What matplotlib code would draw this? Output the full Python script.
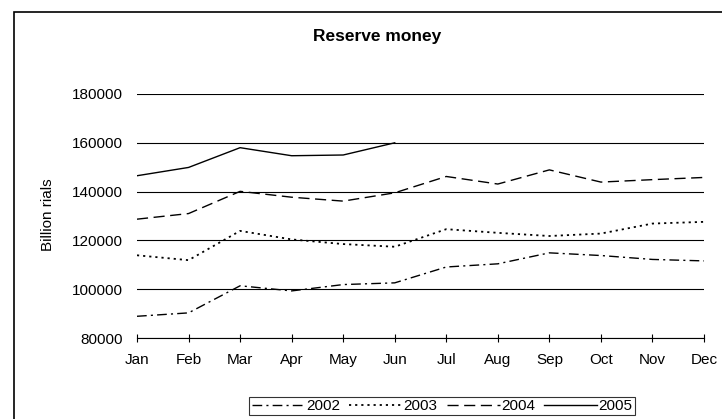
import matplotlib
matplotlib.use("Agg")
import matplotlib.pyplot as plt
from matplotlib.patches import Rectangle

plt.rcParams['font.family'] = ['Liberation Sans', 'DejaVu Sans']

MONTHS = ["Jan", "Feb", "Mar", "Apr", "May", "Jun", "Jul", "Aug", "Sep", "Oct", "Nov", "Dec"]
Y2002 = [88900, 90300, 101400, 99300, 101900, 102600, 109100, 110400, 114900, 113800, 112200, 111600]
Y2003 = [113900, 111900, 123900, 120400, 118500, 117400, 124600, 123100, 121800, 122800, 126900, 127600]
Y2004 = [128700, 131000, 140100, 137700, 136100, 139500, 146200, 143100, 148900, 143900, 144900, 145800]
Y2005 = [146500, 149900, 158000, 154700, 155000, 160000]
YTICKS = [80000, 100000, 120000, 140000, 160000, 180000]

fig = plt.figure(figsize=(7.22, 4.19), dpi=100)
ax = fig.add_axes([137 / 722, 1 - 338 / 419, (704 - 137) / 722, (338 - 94) / 419])

# outer chart border (cut off on the right and bottom like the source)
fig.patches.append(Rectangle((14 / 722, -0.1), 1.2, 1.1 - 12 / 419, transform=fig.transFigure,
                             fill=False, edgecolor="black", linewidth=1.2))

xs = list(range(len(MONTHS)))
ax.plot(xs, Y2002, color="black", linewidth=1.0, linestyle=(0, (7, 3, 1.5, 3)), label="2002")
ax.plot(xs, Y2003, color="black", linewidth=1.3, linestyle=(0, (1.2, 2.2)), label="2003")
ax.plot(xs, Y2004, color="black", linewidth=1.0, linestyle=(0, (8, 4)), label="2004")
ax.plot(xs[:len(Y2005)], Y2005, color="black", linewidth=1.0, label="2005")

ax.set_xlim(0, 11)
ax.set_ylim(80000, 180000)
ax.set_yticks(YTICKS)
ax.set_yticklabels([str(v) for v in YTICKS])
ax.set_xticks(xs)
ax.set_xticklabels(MONTHS)
ax.grid(axis="y", color="black", linewidth=0.8)
ax.set_axisbelow(True)

for side in ["left", "top", "right"]:
    ax.spines[side].set_visible(False)
ax.spines["bottom"].set_linewidth(0.8)
ax.tick_params(axis="y", length=0, pad=10, labelsize=11)
ax.tick_params(axis="x", direction="inout", length=6, width=0.8, pad=8, labelsize=11)

fig.text(48 / 722, 1 - 215 / 419, "Billion rials", rotation=90, ha="center", va="center", fontsize=11)
fig.text(377 / 722, 1 - 37 / 419, "Reserve money", ha="center", va="center",
         fontsize=12.5, fontweight="bold")

leg = fig.legend(loc="center", bbox_to_anchor=(442 / 722, 1 - 406 / 419), ncol=4,
                 frameon=True, fancybox=False, fontsize=11, handlelength=3.5,
                 handletextpad=0.05, columnspacing=0.6, borderpad=0.15, borderaxespad=0)
leg.get_frame().set_edgecolor("black")
leg.get_frame().set_linewidth(0.8)

fig.savefig("out.png", dpi=100)
